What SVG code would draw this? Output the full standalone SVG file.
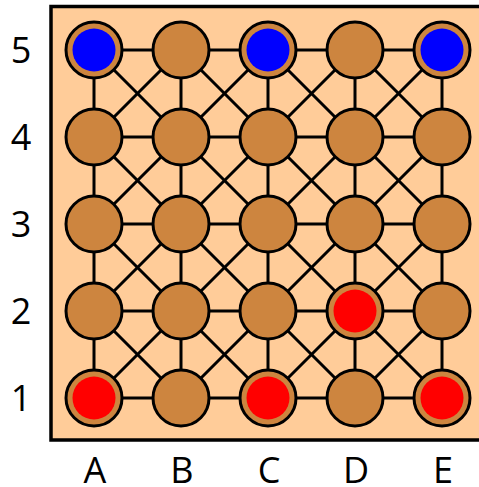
<svg xmlns="http://www.w3.org/2000/svg" width="479" height="487" viewBox="0 0 479 487">
<style>
.lbl{font-family:"Open Sans","Noto Sans",sans-serif;font-size:36px;fill:#000;text-anchor:middle}
.ln{stroke:#000;stroke-width:3;fill:none}
.nd{fill:#CD853F;stroke:#000;stroke-width:3}
.blue{fill:#0000FF}
.red{fill:#FF0000}
</style>
<rect x="51" y="6.5" width="440" height="433.5" fill="#FFCC99" stroke="#000" stroke-width="3.5"/>
<g id="connectors" class="ln">
<path d="M94 50H442M94 137H442M94 224H442M94 311H442M94 398H442"/>
<path d="M94 50V398M181 50V398M268 50V398M355 50V398M442 50V398"/>
<path d="M94 50L442 398M94 137L355 398M94 224L268 398M94 311L181 398M181 50L442 311M268 50L442 224M355 50L442 137"/>
<path d="M442 50L94 398M355 50L94 311M268 50L94 224M181 50L94 137M442 137L181 398M442 224L268 398M442 311L355 398"/>
</g>
<g id="A5"><circle class="nd" cx="94" cy="50" r="28"/><circle class="blue" cx="94" cy="50" r="21.5"/></g>
<g id="B5"><circle class="nd" cx="181" cy="50" r="28"/></g>
<g id="C5"><circle class="nd" cx="268" cy="50" r="28"/><circle class="blue" cx="268" cy="50" r="21.5"/></g>
<g id="D5"><circle class="nd" cx="355" cy="50" r="28"/></g>
<g id="E5"><circle class="nd" cx="442" cy="50" r="28"/><circle class="blue" cx="442" cy="50" r="21.5"/></g>
<g id="A4"><circle class="nd" cx="94" cy="137" r="28"/></g>
<g id="B4"><circle class="nd" cx="181" cy="137" r="28"/></g>
<g id="C4"><circle class="nd" cx="268" cy="137" r="28"/></g>
<g id="D4"><circle class="nd" cx="355" cy="137" r="28"/></g>
<g id="E4"><circle class="nd" cx="442" cy="137" r="28"/></g>
<g id="A3"><circle class="nd" cx="94" cy="224" r="28"/></g>
<g id="B3"><circle class="nd" cx="181" cy="224" r="28"/></g>
<g id="C3"><circle class="nd" cx="268" cy="224" r="28"/></g>
<g id="D3"><circle class="nd" cx="355" cy="224" r="28"/></g>
<g id="E3"><circle class="nd" cx="442" cy="224" r="28"/></g>
<g id="A2"><circle class="nd" cx="94" cy="311" r="28"/></g>
<g id="B2"><circle class="nd" cx="181" cy="311" r="28"/></g>
<g id="C2"><circle class="nd" cx="268" cy="311" r="28"/></g>
<g id="D2"><circle class="nd" cx="355" cy="311" r="28" stroke="#FFFF00"/><circle class="red" cx="355" cy="311" r="21.5"/></g>
<g id="E2"><circle class="nd" cx="442" cy="311" r="28"/></g>
<g id="A1"><circle class="nd" cx="94" cy="398" r="28"/><circle class="red" cx="94" cy="398" r="21.5"/></g>
<g id="B1"><circle class="nd" cx="181" cy="398" r="28"/></g>
<g id="C1"><circle class="nd" cx="268" cy="398" r="28"/><circle class="red" cx="268" cy="398" r="21.5"/></g>
<g id="D1"><circle class="nd" cx="355" cy="398" r="28"/></g>
<g id="E1"><circle class="nd" cx="442" cy="398" r="28"/><circle class="red" cx="442" cy="398" r="21.5"/></g>
<g id="labels">
<text class="lbl" x="21" y="63">5</text>
<text class="lbl" x="21" y="150">4</text>
<text class="lbl" x="21" y="237">3</text>
<text class="lbl" x="21" y="324">2</text>
<text class="lbl" x="21" y="411">1</text>
<text class="lbl" x="95" y="483">A</text>
<text class="lbl" x="182" y="483">B</text>
<text class="lbl" x="269" y="483">C</text>
<text class="lbl" x="356" y="483">D</text>
<text class="lbl" x="443" y="483">E</text>
</g>
</svg>
